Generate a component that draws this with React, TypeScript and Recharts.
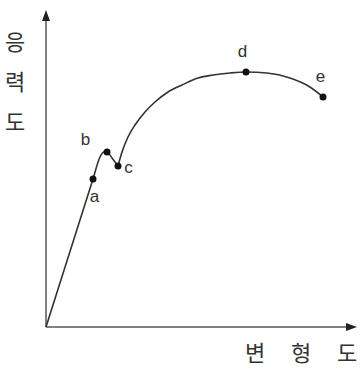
import React from 'react';
import { ComposedChart, Line, Scatter, XAxis, YAxis, ReferenceDot, ReferenceLine, LabelList } from 'recharts';

// strain (x) and stress (y) values
// elastic part + yield (origin -> a -> b -> c)
const elasticStrain = [0, 47, 54, 58, 61, 66, 72];
const elasticStress = [0, 148, 170, 175, 175, 169, 161];
// strain-hardening part (c -> d -> e)
const hardeningStrain = [72, 76, 82, 89, 99, 109, 122, 136, 152, 167, 184, 200, 221, 244, 264, 277];
const hardeningStress = [161, 175, 190, 202, 215, 225, 235, 242, 249, 252, 254, 255, 254, 249, 240, 230];

const pointNames = ['a', 'b', 'c', 'd', 'e'];
const pointStrain = [47, 61, 72, 200, 277];
const pointStress = [148, 175, 161, 255, 230];

const yLabelChars = ['응', '력', '도'];
const xLabelChars = ['변', '형', '도'];

const elasticData = elasticStrain.map((x, i) => ({ x, y: elasticStress[i] }));
const hardeningData = hardeningStrain.map((x, i) => ({ x, y: hardeningStress[i] }));
const pointData = pointNames.map((name, i) => ({ x: pointStrain[i], y: pointStress[i], name }));

const labelOffsets: Record<string, [number, number]> = {
  a: [6, 28],
  b: [-17, -2],
  c: [15, 12],
  d: [1, -10],
  e: [2, -10],
};

const W = 361;
const H = 370;
const margin = { top: 12, right: 5, bottom: 43, left: 46 };

const PointLabel = (props: any) => {
  const { x, y, value } = props;
  const off = labelOffsets[value] || [0, 0];
  return (
    <text
      x={x + off[0]}
      y={y + off[1]}
      textAnchor="middle"
      fontFamily="'Liberation Sans', Arial, sans-serif"
      fontSize={17}
      fill="#333"
    >
      {value}
    </text>
  );
};

const UpArrow = (props: any) => {
  const { cx, cy } = props;
  return <path d={`M${cx},${cy - 2} L${cx - 4},${cy + 9} L${cx + 4},${cy + 9} Z`} fill="#222" />;
};
const RightArrow = (props: any) => {
  const { cx, cy } = props;
  return <path d={`M${cx + 1},${cy} L${cx - 10},${cy - 4} L${cx - 10},${cy + 4} Z`} fill="#222" />;
};

export default function App() {
  return (
    <div style={{ position: 'absolute', left: 0, top: 0, width: W, height: H, background: '#fff' }}>
      <ComposedChart width={W} height={H} margin={margin}>
        <XAxis type="number" dataKey="x" domain={[0, 310]} hide />
        <YAxis type="number" dataKey="y" domain={[0, 315]} hide />
        <ReferenceLine
          segment={[{ x: 0, y: 0 }, { x: 0, y: 312 }]}
          stroke="#808080"
          strokeWidth={2}
          ifOverflow="visible"
        />
        <ReferenceLine
          segment={[{ x: 0, y: 0 }, { x: 306, y: 0 }]}
          stroke="#808080"
          strokeWidth={2}
          ifOverflow="visible"
        />
        <Line
          data={elasticData}
          type="monotone"
          dataKey="y"
          stroke="#333"
          strokeWidth={1.6}
          dot={false}
          activeDot={false}
          isAnimationActive={false}
        />
        <Line
          data={hardeningData}
          type="monotone"
          dataKey="y"
          stroke="#333"
          strokeWidth={1.6}
          dot={false}
          activeDot={false}
          isAnimationActive={false}
        />
        <Scatter
          data={pointData}
          dataKey="y"
          fill="#111"
          isAnimationActive={false}
          shape={(p: any) => <circle cx={p.cx} cy={p.cy} r={3.5} fill="#111" />}
        >
          <LabelList dataKey="name" content={PointLabel} />
        </Scatter>
        <ReferenceDot x={0} y={315} r={0} shape={UpArrow} ifOverflow="visible" />
        <ReferenceDot x={310} y={0} r={0} shape={RightArrow} ifOverflow="visible" />
      </ComposedChart>
      {yLabelChars.map((c, i) => (
        <span
          key={'y' + i}
          style={{
            position: 'absolute',
            left: 5,
            top: 27 + i * 40,
            fontFamily: "'Noto Sans CJK KR', sans-serif",
            fontSize: 22,
            lineHeight: '26px',
            color: '#333',
          }}
        >
          {c}
        </span>
      ))}
      {xLabelChars.map((c, i) => (
        <span
          key={'x' + i}
          style={{
            position: 'absolute',
            left: 245 + i * 46,
            top: 338,
            fontFamily: "'Noto Sans CJK KR', sans-serif",
            fontSize: 22,
            lineHeight: '26px',
            color: '#333',
          }}
        >
          {c}
        </span>
      ))}
    </div>
  );
}
